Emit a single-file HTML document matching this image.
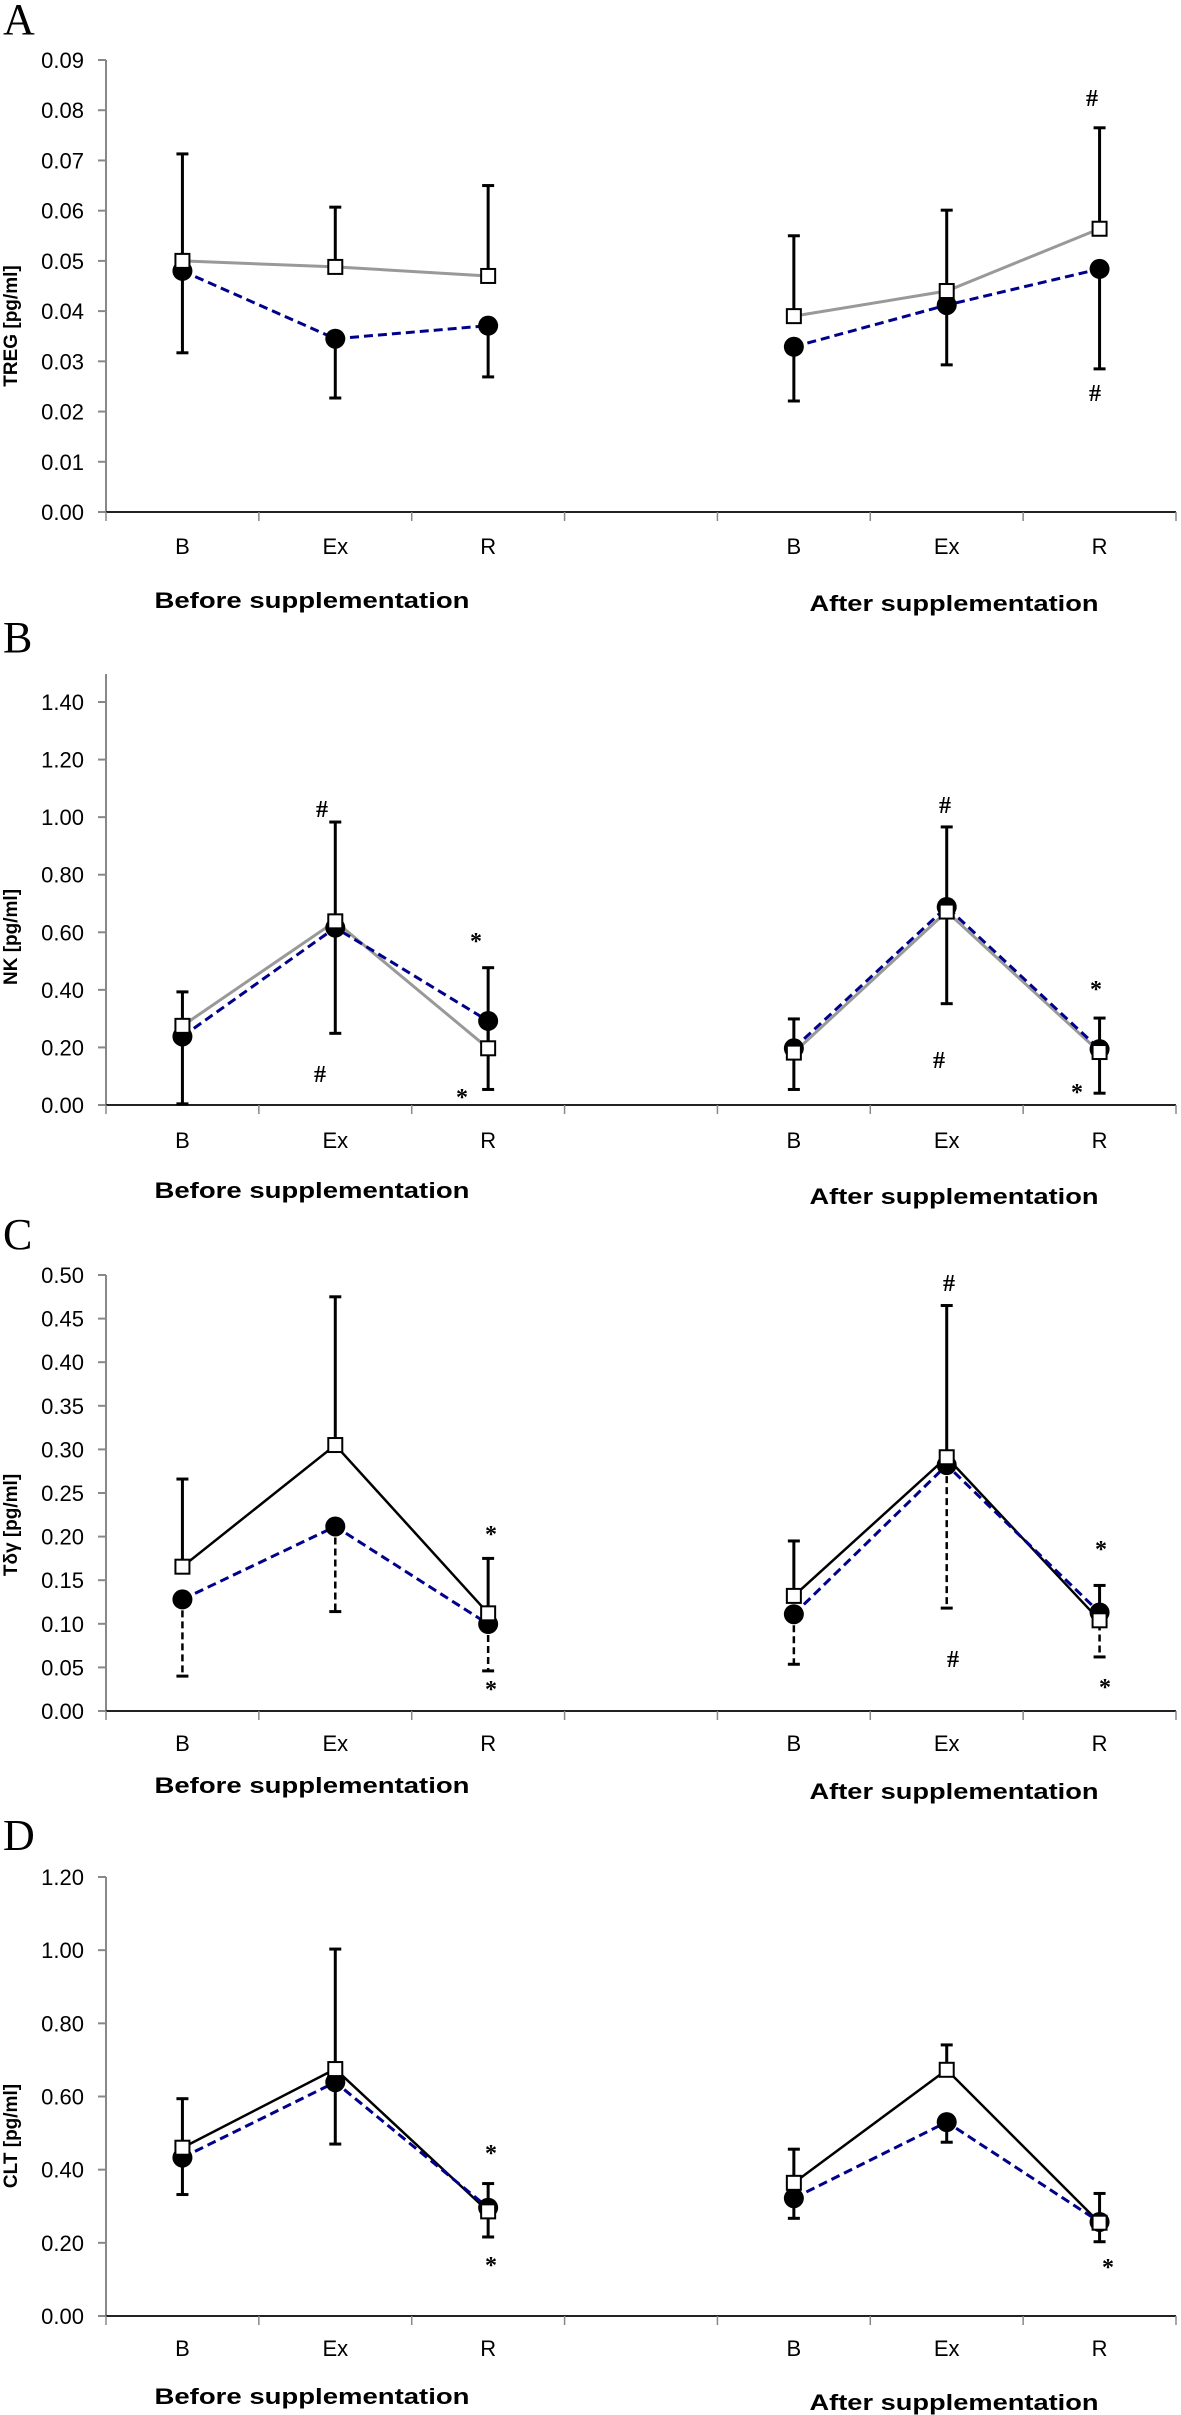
<!DOCTYPE html>
<html><head><meta charset="utf-8"><style>
html,body{margin:0;padding:0;background:#fff;}
svg{display:block;}
text{font-family:"Liberation Sans",Arial,sans-serif;}
.tick{font-size:22px;fill:#000;}
.grp{font-size:22px;font-weight:bold;fill:#000;}
.ytitle{font-size:19px;font-weight:bold;fill:#000;}
.letter{font-family:"Liberation Serif",serif;font-size:44px;fill:#000;}
.ann{font-family:"Liberation Serif",serif;font-size:24px;font-weight:bold;fill:#000;}
</style></head><body>
<svg id="fig" width="1181" height="2415" viewBox="0 0 1181 2415" xmlns="http://www.w3.org/2000/svg"></svg>
<script>
// ---- data ----
const categories = ['B','Ex','R','B','Ex','R'];
const slots = [0,1,2,4,5,6];

const aTicks = ['0.00','0.01','0.02','0.03','0.04','0.05','0.06','0.07','0.08','0.09'];
const aControl = [0.050,0.0488,0.047,0.039,0.044,0.0564];
const aSupp = [0.048,0.0345,0.0371,0.0329,0.0412,0.0484];
const aCtrlUpper = [0.0713,0.0607,0.065,0.055,0.0601,0.0765];
const aSuppLower = [0.0317,0.0227,0.0269,0.0221,0.0293,0.0285];

const bTicks = ['0.00','0.20','0.40','0.60','0.80','1.00','1.20','1.40'];
const bControl = [0.275,0.638,0.197,0.182,0.672,0.184];
const bSupp = [0.238,0.616,0.292,0.197,0.688,0.194];
const bCtrlUpper = [0.393,0.983,0.477,0.299,0.966,0.302];
const bSuppLower = [0.004,0.249,0.054,0.054,0.352,0.041];

const cTicks = ['0.00','0.05','0.10','0.15','0.20','0.25','0.30','0.35','0.40','0.45','0.50'];
const cControl = [0.1655,0.305,0.112,0.132,0.291,0.104];
const cSupp = [0.128,0.2116,0.0997,0.111,0.282,0.113];
const cCtrlUpper = [0.266,0.475,0.175,0.195,0.465,0.144];
const cSuppLower = [0.040,0.114,0.046,0.0536,0.118,0.062];

const dTicks = ['0.00','0.20','0.40','0.60','0.80','1.00','1.20'];
const dControl = [0.460,0.675,0.286,0.364,0.673,0.255];
const dSupp = [0.433,0.639,0.296,0.322,0.530,0.257];
const dCtrlUpper = [0.594,1.003,0.362,0.456,0.741,0.335];
const dSuppLower = [0.332,0.470,0.216,0.267,0.475,0.203];

// ---- drawing ----
const NS='http://www.w3.org/2000/svg';
const svg=document.getElementById('fig');
function el(tag,attrs,parent){const e=document.createElementNS(NS,tag);for(const k in attrs)e.setAttribute(k,attrs[k]);(parent||svg).appendChild(e);return e;}
const X0=106,X1=1176,BAND=(X1-X0)/7;
function xPos(i){return X0+BAND*(slots[i]+0.5);}

function panel(p){
  const g=el('g',{});
  
  
  const maxV=parseFloat(p.ticks[p.ticks.length-1]);
  const y=v=>p.yZero-(v/maxV)*(p.yZero-p.yTop);
  const L=el('text',{x:3,y:p.letterY,class:'letter'},g);L.textContent=p.id.toUpperCase();
  
  
  const ya=el('line',{x1:X0,y1:p.axisTop,x2:X0,y2:p.yZero,stroke:'#888','stroke-width':2},g);
  
  
  p.ticks.forEach(t=>{
    const v=parseFloat(t),yy=y(v);
    el('line',{x1:X0-8,y1:yy,x2:X0,y2:yy,stroke:'#888','stroke-width':2},g);
    const tx=el('text',{x:84,y:yy+8,class:'tick','text-anchor':'end'},g);tx.textContent=t;
    
    
  });
  const xa=el('line',{x1:X0,y1:p.yZero,x2:X1,y2:p.yZero,stroke:'#222','stroke-width':2},g);
  
  
  for(let k=0;k<=7;k++){el('line',{x1:X0+BAND*k,y1:p.yZero,x2:X0+BAND*k,y2:p.yZero+9,stroke:'#888','stroke-width':1.5},g);}
  categories.forEach((c,i)=>{
    const t=el('text',{x:xPos(i),y:p.labY+8,class:'tick','text-anchor':'middle'},g);t.textContent=c;
    
    
  });
  const gb=el('text',{x:312,y:p.beforeY+8,class:'grp','text-anchor':'middle',textLength:315,lengthAdjust:'spacingAndGlyphs'},g);gb.textContent='Before supplementation';
  
  
  const ga=el('text',{x:954,y:p.afterY+8,class:'grp','text-anchor':'middle',textLength:289,lengthAdjust:'spacingAndGlyphs'},g);ga.textContent='After supplementation';
  
  
  const yt=el('text',{x:0,y:0,class:'ytitle','text-anchor':'middle',transform:`translate(17,${p.titleY}) rotate(-90)`},g);yt.textContent=p.title;
  
  
  for(let i=0;i<6;i++){
    const x=xPos(i);
    const eu=el('line',{x1:x,y1:y(p.control[i]),x2:x,y2:y(p.upper[i]),stroke:'#000','stroke-width':3},g);
    
    
    el('line',{x1:x-6,y1:y(p.upper[i]),x2:x+6,y2:y(p.upper[i]),stroke:'#000','stroke-width':3},g);
    const el2=el('line',{x1:x,y1:y(p.supp[i]),x2:x,y2:y(p.lower[i]),stroke:'#000','stroke-width':p.dashDown?2.5:3},g);
    if(p.dashDown)el2.setAttribute('stroke-dasharray','7 4');
    
    
    el('line',{x1:x-6,y1:y(p.lower[i]),x2:x+6,y2:y(p.lower[i]),stroke:'#000','stroke-width':3},g);
  }
  [[0,3],[3,6]].forEach(([s,e])=>{
    let pc='',ps='';
    for(let i=s;i<e;i++){pc+=(i==s?'M':'L')+xPos(i)+','+y(p.control[i]);ps+=(i==s?'M':'L')+xPos(i)+','+y(p.supp[i]);}
    const lc=el('path',{d:pc,fill:'none',stroke:p.ctrlColor,'stroke-width':p.ctrlColor=='#000'?2.5:3},g);
    
    
    const ls=el('path',{d:ps,fill:'none',stroke:'#00008b','stroke-width':3,'stroke-dasharray':'9 5'},g);
    
    
  });
  for(let i=0;i<6;i++){
    const c=el('circle',{cx:xPos(i),cy:y(p.supp[i]),r:10,fill:'#000'},g);
    
    
  }
  for(let i=0;i<6;i++){
    const s=el('rect',{x:xPos(i)-7,y:y(p.control[i])-7,width:14,height:14,fill:'#fff',stroke:'#000','stroke-width':2},g);
    
    
  }
  p.ann.forEach(a=>{
    const t=el('text',{x:a[1],y:a[2]+8,class:'ann','text-anchor':'middle'},g);t.textContent=a[0];
    
    
  });
}

panel({id:'a',ticks:aTicks,control:aControl,supp:aSupp,upper:aCtrlUpper,lower:aSuppLower,
  yZero:512,yTop:60,axisTop:60,letterY:34,labY:546,beforeY:600,afterY:603,titleY:326,title:'TREG [pg/ml]',
  ctrlColor:'#999',dashDown:false,ann:[['#',1092,98],['#',1095,393]]});
panel({id:'b',ticks:bTicks,control:bControl,supp:bSupp,upper:bCtrlUpper,lower:bSuppLower,
  yZero:1105,yTop:702,axisTop:674,letterY:652,labY:1140,beforeY:1190,afterY:1196,titleY:937,title:'NK [pg/ml]',
  ctrlColor:'#999',dashDown:false,ann:[['#',322,809],['#',320,1074],['*',476,941],['*',462,1097],['#',945,805],['#',939,1060],['*',1096,989],['*',1077,1092]]});
panel({id:'c',ticks:cTicks,control:cControl,supp:cSupp,upper:cCtrlUpper,lower:cSuppLower,
  yZero:1711,yTop:1275,axisTop:1275,letterY:1249,labY:1743,beforeY:1785,afterY:1791,titleY:1525,title:'Tδγ [pg/ml]',
  ctrlColor:'#000',dashDown:true,ann:[['*',491,1534],['*',491,1689],['#',949,1283],['#',953,1659],['*',1101,1549],['*',1105,1687]]});
panel({id:'d',ticks:dTicks,control:dControl,supp:dSupp,upper:dCtrlUpper,lower:dSuppLower,
  yZero:2316,yTop:1877,axisTop:1877,letterY:1850,labY:2348,beforeY:2396,afterY:2402,titleY:2136,title:'CLT [pg/ml]',
  ctrlColor:'#000',dashDown:false,ann:[['*',491,2153],['*',491,2265],['*',1108,2267]]});
</script>
</body></html>
